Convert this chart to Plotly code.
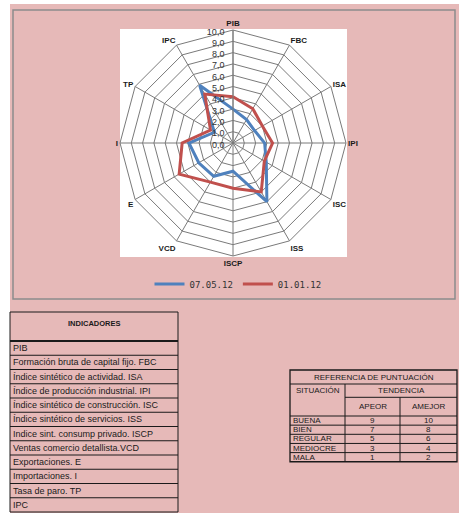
import plotly.graph_objects as go

W, H = 469, 520

categories = ["PIB", "FBC", "ISA", "IPI", "ISC", "ISS", "ISCP", "VCD", "E", "I", "TP", "IPC"]
serie_070512 = [3.0, 2.4, 2.2, 2.8, 3.4, 6.0, 2.5, 3.4, 3.5, 3.9, 1.9, 5.9]
serie_010112 = [4.1, 3.5, 3.0, 3.5, 3.2, 5.0, 4.0, 4.0, 5.5, 4.5, 2.3, 5.0]
series_names = ["07.05.12", "01.01.12"]
series_colors = ["#4F81BD", "#C0504D"]

indicadores = [
    "PIB",
    "Formación bruta de capital fijo. FBC",
    "Índice sintético de actividad. ISA",
    "Índice de producción industrial. IPI",
    "Índice sintético de construcción. ISC",
    "Índice sintético de servicios. ISS",
    "Indice sint. consump privado. ISCP",
    "Ventas comercio detallista.VCD",
    "Exportaciones. E",
    "Importaciones. I",
    "Tasa de paro. TP",
    "IPC",
]
situaciones = ["BUENA", "BIEN", "REGULAR", "MEDIOCRE", "MALA"]
a_peor = [9, 7, 5, 3, 1]
a_mejor = [10, 8, 6, 4, 2]


def px(x):
    return x / W


def py(y):
    return 1 - y / H


fig = go.Figure()
for name, vals, col in zip(series_names, [serie_070512, serie_010112], series_colors):
    fig.add_trace(go.Scatterpolar(
        r=vals + vals[:1], theta=categories + categories[:1],
        mode="lines", name=name,
        line=dict(color=col, width=3),
    ))

cx, cy, R = 233, 143, 113
shapes = []
annotations = []

# backgrounds
shapes.append(dict(type="rect", xref="paper", yref="paper", x0=px(10), x1=px(459), y0=py(513), y1=py(4),
                   fillcolor="#E6B9B8", line=dict(width=0), layer="below"))
shapes.append(dict(type="rect", xref="paper", yref="paper", x0=px(13), x1=px(455), y0=py(299), y1=py(10),
                   fillcolor="rgba(0,0,0,0)", line=dict(color="#8C8C8C", width=1.5), layer="below"))
shapes.append(dict(type="rect", xref="paper", yref="paper", x0=px(120), x1=px(347), y0=py(257), y1=py(29),
                   fillcolor="white", line=dict(width=0), layer="below"))

# left table
lt_x0, lt_x1, lt_top, lt_hdr, row_h = 10, 178, 312, 341, 14.25
lt_bot = lt_hdr + row_h * len(indicadores)
shapes.append(dict(type="rect", xref="paper", yref="paper", x0=px(lt_x0), x1=px(lt_x1), y0=py(lt_bot), y1=py(lt_top),
                   fillcolor="rgba(0,0,0,0)", line=dict(color="#1a1a1a", width=1)))
shapes.append(dict(type="line", xref="paper", yref="paper", x0=px(lt_x0), x1=px(lt_x1), y0=py(lt_hdr), y1=py(lt_hdr),
                   line=dict(color="#1a1a1a", width=2)))
for i in range(1, len(indicadores)):
    yy = lt_hdr + row_h * i
    shapes.append(dict(type="line", xref="paper", yref="paper", x0=px(lt_x0), x1=px(lt_x1), y0=py(yy), y1=py(yy),
                       line=dict(color="#1a1a1a", width=1)))
annotations.append(dict(xref="paper", yref="paper", x=px((lt_x0 + lt_x1) / 2), y=py(323), text="INDICADORES",
                        showarrow=False, font=dict(family="Liberation Sans Narrow, Liberation Sans, Arial", size=7.5,
                                                   color="#1a1a1a", weight="bold"),
                        xanchor="center", yanchor="middle"))
for i, t in enumerate(indicadores):
    annotations.append(dict(xref="paper", yref="paper", x=px(lt_x0 + 1), y=py(lt_hdr + row_h * (i + 0.5)), text=t,
                            showarrow=False, font=dict(family="Liberation Sans, Arial", size=9, color="#1a1a1a"),
                            xanchor="left", yanchor="middle"))

# right table
rx0, rx1, rxa, rxb = 290, 457, 345, 400
ry_top, ry_t, ry_s, ry_h, rrow = 370, 384, 397.3, 416, 9.15
ry_bot = ry_h + rrow * len(situaciones)
lc = dict(color="#1a1a1a", width=1)
shapes.append(dict(type="rect", xref="paper", yref="paper", x0=px(rx0), x1=px(rx1), y0=py(ry_bot), y1=py(ry_top),
                   fillcolor="rgba(0,0,0,0)", line=dict(color="#1a1a1a", width=1.3)))
for (x0, x1, yy) in [(rx0, rx1, ry_t), (rxa, rx1, ry_s), (rx0, rx1, ry_h)] + \
        [(rx0, rx1, ry_h + rrow * i) for i in range(1, len(situaciones))]:
    shapes.append(dict(type="line", xref="paper", yref="paper", x0=px(x0), x1=px(x1), y0=py(yy), y1=py(yy), line=lc))
shapes.append(dict(type="line", xref="paper", yref="paper", x0=px(rxa), x1=px(rxa), y0=py(ry_t), y1=py(ry_bot), line=lc))
shapes.append(dict(type="line", xref="paper", yref="paper", x0=px(rxb), x1=px(rxb), y0=py(ry_s), y1=py(ry_bot), line=lc))

tfont = dict(family="Liberation Sans Narrow, Liberation Sans, Arial", size=8, color="#1a1a1a")


def ann(x, y, t, anchor="center", font=tfont):
    annotations.append(dict(xref="paper", yref="paper", x=px(x), y=py(y), text=t, showarrow=False,
                            font=font, xanchor=anchor, yanchor="middle"))


ann((rx0 + rx1) / 2, (ry_top + ry_t) / 2, "REFERENCIA DE PUNTUACIÓN")
ann((rx0 + rxa) / 2, (ry_t + ry_s) / 2, "SITUACIÓN")
ann((rxa + rx1) / 2, (ry_t + ry_s) / 2, "TENDENCIA")
ann((rxa + rxb) / 2, 406.5, "APEOR")
ann((rxb + rx1) / 2, 406.5, "AMEJOR")
for i, (s, a, b) in enumerate(zip(situaciones, a_peor, a_mejor)):
    yy = ry_h + rrow * (i + 0.5)
    ann(rx0 + 1, yy, s, anchor="left")
    ann((rxa + rxb) / 2, yy, str(a))
    ann((rxb + rx1) / 2, yy, str(b))

fig.update_layout(
    width=W, height=H,
    margin=dict(l=0, r=0, t=0, b=0),
    paper_bgcolor="white",
    separators=",.",
    shapes=shapes,
    annotations=annotations,
    polar=dict(
        domain=dict(x=[px(cx - R), px(cx + R)], y=[py(cy + R), py(cy - R)]),
        bgcolor="rgba(0,0,0,0)",
        gridshape="linear",
        radialaxis=dict(range=[0, 10], dtick=1, tickformat=".1f", angle=90, side="counterclockwise",
                        showline=True, linecolor="#7a7a7a", linewidth=1,
                        gridcolor="#7a7a7a", gridwidth=1, ticks="",
                        tickfont=dict(family="Liberation Sans, Arial", size=9, color="#333333")),
        angularaxis=dict(rotation=90, direction="clockwise", linecolor="#7a7a7a", linewidth=1,
                         gridcolor="#7a7a7a", gridwidth=1, ticks="",
                         tickfont=dict(family="Liberation Sans, Arial", size=8, color="#1a1a1a", weight="bold")),
    ),
    showlegend=True,
    legend=dict(orientation="h", x=px(238), y=py(284), xanchor="center", yanchor="middle",
                bgcolor="rgba(0,0,0,0)", font=dict(family="DejaVu Sans Mono, monospace", size=9, color="#333333"),
                itemwidth=30, tracegroupgap=0),
)

fig.write_html("out.html", config={"displayModeBar": False},
               post_script="document.body.style.margin='0';document.body.style.overflow='hidden';")
